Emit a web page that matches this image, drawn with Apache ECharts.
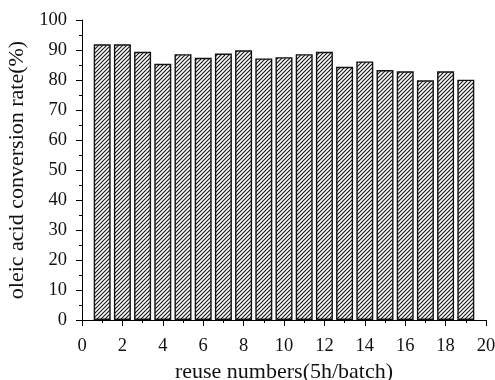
<!DOCTYPE html>
<html>
<head>
<meta charset="utf-8">
<script src="https://cdn.jsdelivr.net/npm/echarts@6/dist/echarts.min.js"></script>
<style>html,body{margin:0;padding:0;background:#fff;}#c{width:495px;height:380px;}</style>
</head>
<body>
<div id="c"></div>
<script>
const reuseNumbers = [1,2,3,4,5,6,7,8,9,10,11,12,13,14,15,16,17,18,19];
const conversionRate = [91.9,91.9,89.4,85.4,88.6,87.4,88.8,89.9,87.2,87.6,88.6,89.4,84.4,86.2,83.3,82.9,79.9,82.9,80.1];

function hatch() {
  const s = 4;
  const cv = document.createElement('canvas');
  cv.width = s; cv.height = s;
  const ctx = cv.getContext('2d');
  ctx.fillStyle = '#fff';
  ctx.fillRect(0,0,s,s);
  ctx.strokeStyle = '#1a1a1a';
  ctx.lineWidth = 1.2;
  ctx.beginPath();
  ctx.moveTo(-1, s+1); ctx.lineTo(s+1, -1);
  ctx.moveTo(-1, 1); ctx.lineTo(1, -1);
  ctx.moveTo(s-1, s+1); ctx.lineTo(s+1, s-1);
  ctx.stroke();
  return cv;
}

const font = 'Liberation Serif';
const chart = echarts.init(document.getElementById('c'), null, {renderer: 'canvas'});
chart.setOption({
  animation: false,
  grid: {left: 82, right: 9, top: 20, bottom: 60, containLabel: false, outerBoundsMode: 'none'},
  xAxis: {
    type: 'value', min: 0, max: 20, interval: 2,
    name: 'reuse numbers(5h/batch)', nameLocation: 'middle', nameGap: 36,
    nameTextStyle: {fontFamily: font, fontSize: 22, color: '#111'},
    axisLine: {show: true, lineStyle: {color: '#000', width: 1}},
    axisTick: {show: true, length: 6, lineStyle: {color: '#000'}},
    minorTick: {show: true, splitNumber: 2, length: 3, lineStyle: {color: '#000'}},
    axisLabel: {fontFamily: font, fontSize: 18.5, color: '#111', margin: 17},
    splitLine: {show: false}
  },
  yAxis: {
    type: 'value', min: 0, max: 100, interval: 10,
    name: 'oleic acid conversion rate(%)', nameLocation: 'middle', nameGap: 52,
    nameTextStyle: {fontFamily: font, fontSize: 22, color: '#111'},
    axisLine: {show: true, lineStyle: {color: '#000', width: 1}},
    axisTick: {show: true, length: 6, lineStyle: {color: '#000'}},
    minorTick: {show: true, splitNumber: 2, length: 3, lineStyle: {color: '#000'}},
    axisLabel: {fontFamily: font, fontSize: 18.5, color: '#111', margin: 15},
    splitLine: {show: false}
  },
  series: [{
    type: 'bar',
    data: reuseNumbers.map((x, i) => [x, conversionRate[i]]),
    barWidth: 17,
    itemStyle: {
      color: {image: hatch(), repeat: 'repeat'},
      borderColor: '#111', borderWidth: 1.4
    }
  }]
});
</script>
</body>
</html>
